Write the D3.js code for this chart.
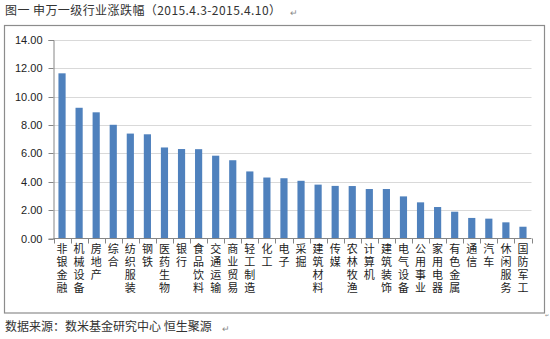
<!DOCTYPE html>
<html><head><meta charset="utf-8">
<script src="https://cdn.jsdelivr.net/npm/d3@7"></script>
<style>body{margin:0;background:#fff}svg{display:block}
.vlab{writing-mode:vertical-rl;text-orientation:upright;letter-spacing:2px}</style>
</head><body>
<script>
const categories = ["非银金融","机械设备","房地产","综合","纺织服装","钢铁","医药生物","银行","食品饮料","交通运输","商业贸易","轻工制造","化工","电子","采掘","建筑材料","传媒","农林牧渔","计算机","建筑装饰","电气设备","公用事业","家用电器","有色金属","通信","汽车","休闲服务","国防军工"];
const values = [11.65,9.22,8.90,8.02,7.40,7.35,6.42,6.31,6.30,5.84,5.52,4.73,4.30,4.25,4.07,3.80,3.71,3.70,3.49,3.49,2.97,2.55,2.22,1.89,1.45,1.40,1.14,0.83];
const yTicks = [0,2,4,6,8,10,12,14];
const titleText = "图一  申万一级行业涨跌幅（2015.4.3-2015.4.10）";
const sourceText = "数据来源：数米基金研究中心  恒生聚源";

const W = 550, H = 339;
const svg = d3.select("body").append("svg").attr("width", W).attr("height", H);
const cjk = "'Noto Sans CJK SC', sans-serif";

// title
svg.append("text").attr("x", 5).attr("y", 15).attr("font-family", cjk)
  .attr("font-size", 12).attr("fill", "#333").attr("textLength", 276).attr("lengthAdjust","spacing")
  .text(titleText);
svg.append("text").attr("x", 290).attr("y", 16).attr("font-family", cjk)
  .attr("font-size", 9).attr("fill", "#888").text("↵");

// frame
svg.append("rect").attr("x", 4.5).attr("y", 25.5).attr("width", 540).attr("height", 287.5)
  .attr("fill", "none").attr("stroke", "#8c8c8c").attr("stroke-width", 1.2);
svg.append("text").attr("x", 544.5).attr("y", 317).attr("font-family", cjk)
  .attr("font-size", 5).attr("fill", "#888").text("↵");

const plot = {left: 53.5, right: 531.5, top: 40, bottom: 238.5};
const x = d3.scaleBand().domain(categories).range([plot.left, plot.right]).paddingInner(0.58).paddingOuter(0.29);
const y = d3.scaleLinear().domain([0, 14]).range([plot.bottom, plot.top]);

// gridlines
svg.append("g").selectAll("line").data(yTicks.filter(d => d > 0)).join("line")
  .attr("x1", plot.left).attr("x2", plot.right)
  .attr("y1", d => Math.round(y(d)) + 0.5).attr("y2", d => Math.round(y(d)) + 0.5)
  .attr("stroke", "#d9d9d9").attr("stroke-width", 1.2);

// bars
svg.append("g").selectAll("rect").data(values).join("rect")
  .attr("x", (d, i) => x(categories[i]))
  .attr("width", x.bandwidth())
  .attr("y", d => y(d))
  .attr("height", d => y(0) - y(d))
  .attr("fill", "#4f81bd");

// y axis
const yAxis = d3.axisLeft(y).tickValues(yTicks).tickFormat(d3.format(".2f")).tickSize(5).tickPadding(6);
const gy = svg.append("g").attr("transform", `translate(${plot.left},0)`).call(yAxis);
gy.select(".domain").attr("stroke", "#868686");
gy.selectAll(".tick line").attr("stroke", "#868686");
gy.selectAll(".tick text").attr("font-family", "'Liberation Sans', Arial, sans-serif")
  .attr("font-size", 11).attr("fill", "#222");
gy.selectAll(".tick").attr("transform", d => `translate(0,${Math.round(y(d)) + 0.5})`);

// x axis line and boundary ticks
const gx = svg.append("g");
gx.append("line").attr("x1", plot.left).attr("x2", plot.right).attr("y1", plot.bottom).attr("y2", plot.bottom)
  .attr("stroke", "#868686");
const n = categories.length;
gx.selectAll("line.t").data(d3.range(n + 1)).join("line").attr("class", "t")
  .attr("x1", i => Math.round(plot.left + i * (plot.right - plot.left) / n) + 0.5)
  .attr("x2", i => Math.round(plot.left + i * (plot.right - plot.left) / n) + 0.5)
  .attr("y1", plot.bottom).attr("y2", plot.bottom + 5).attr("stroke", "#868686");

// vertical category labels (upright stacked characters)
svg.append("g").attr("font-family", cjk).attr("font-size", 11).attr("fill", "#222")
  .selectAll("text").data(categories).join("text").attr("class", "vlab")
  .attr("x", c => x(c) + x.bandwidth() / 2)
  .attr("y", 243)
  .text(c => c);

// source
svg.append("text").attr("x", 5).attr("y", 331).attr("font-family", cjk)
  .attr("font-size", 12).attr("fill", "#333").text(sourceText);
svg.append("text").attr("x", 222).attr("y", 332).attr("font-family", cjk)
  .attr("font-size", 9).attr("fill", "#888").text("↵");
</script>
</body></html>
